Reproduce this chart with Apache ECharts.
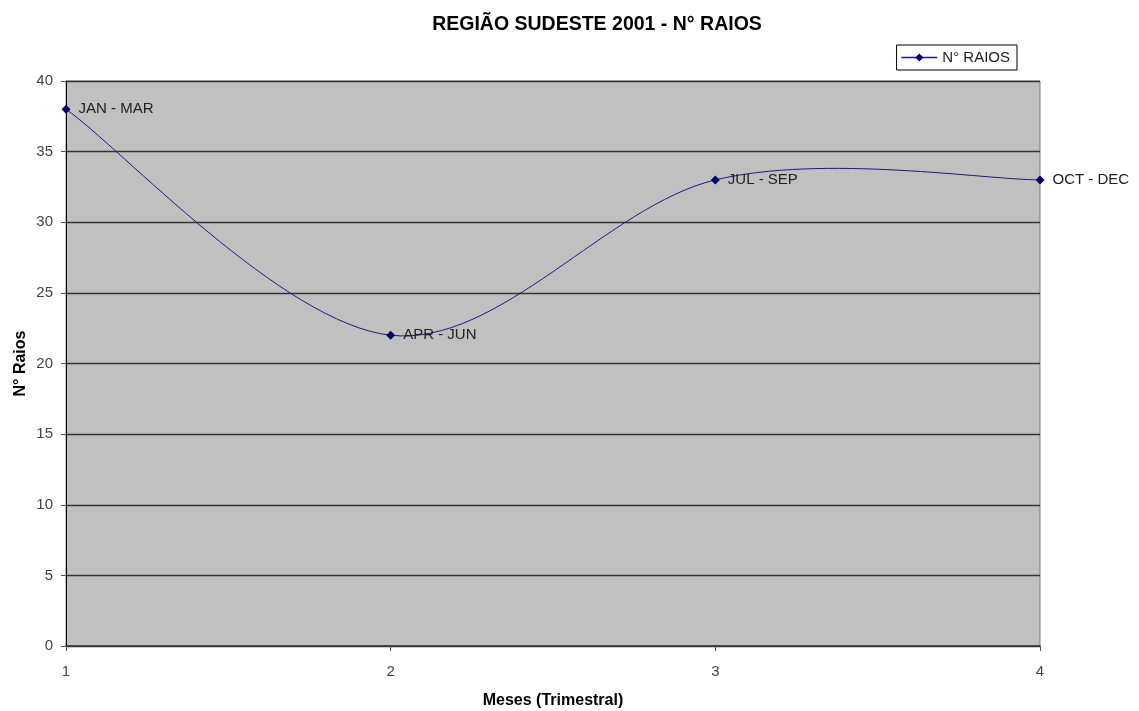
<!DOCTYPE html>
<html>
<head>
<meta charset="utf-8">
<script src="https://cdn.jsdelivr.net/npm/echarts@6/dist/echarts.min.js"></script>
<style>
html,body{margin:0;padding:0;background:#fff;}
#c{width:1139px;height:711px;}
</style>
</head>
<body>
<div id="c"></div>
<script>
const quarters = [1, 2, 3, 4];
const raios = [38, 22, 33, 33];
const periodLabels = ['JAN - MAR', 'APR - JUN', 'JUL - SEP', 'OCT - DEC'];
const yTicks = [0, 5, 10, 15, 20, 25, 30, 35, 40];

const chart = echarts.init(document.getElementById('c'));
const font = 'Arial, "Liberation Sans", sans-serif';
const lineColor = '#1a1a80';

// Excel-style smoothed curve (Catmull-Rom, tension 1/6) through the data points,
// positioned with the chart's own coordinate system.
function renderCurve(params, api) {
  if (params.dataIndex !== 0) return null;
  const pts = quarters.map((q, i) => api.coord([q, raios[i]]));
  const n = pts.length;
  let d = 'M' + pts[0][0] + ' ' + pts[0][1];
  for (let i = 0; i < n - 1; i++) {
    const p0 = pts[i - 1] || pts[i];
    const p1 = pts[i];
    const p2 = pts[i + 1];
    const p3 = pts[i + 2] || pts[i + 1];
    const c1x = p1[0] + (p2[0] - p0[0]) / 6, c1y = p1[1] + (p2[1] - p0[1]) / 6;
    const c2x = p2[0] - (p3[0] - p1[0]) / 6, c2y = p2[1] - (p3[1] - p1[1]) / 6;
    d += ' C' + c1x + ' ' + c1y + ' ' + c2x + ' ' + c2y + ' ' + p2[0] + ' ' + p2[1];
  }
  return {
    type: 'path',
    shape: {pathData: d},
    style: {fill: null, stroke: lineColor, lineWidth: 1}
  };
}

chart.setOption({
  backgroundColor: '#ffffff',
  animation: false,
  title: {
    text: 'REGIÃO SUDESTE 2001 - N° RAIOS',
    left: 592, top: 10, textAlign: 'center',
    textStyle: {fontFamily: font, fontSize: 19.5, fontWeight: 'bold', color: '#000'}
  },
  legend: {
    right: 122, top: 45,
    itemWidth: 36, itemHeight: 10,
    padding: [5, 7, 5, 4],
    borderColor: '#000', borderWidth: 1,
    lineStyle: {color: lineColor, width: 1.5, opacity: 1},
    textStyle: {fontFamily: font, fontSize: 15, color: '#222'},
    data: ['N° RAIOS']
  },
  grid: {left: 66, right: 99, top: 81, bottom: 65, outerBoundsMode: 'none', containLabel: false,
    show: true, backgroundColor: '#c0c0c0', borderColor: '#808080', borderWidth: 1},
  xAxis: {
    type: 'value', min: 1, max: 4, interval: 1,
    name: 'Meses (Trimestral)', nameLocation: 'middle', nameGap: 47, nameMoveOverlap: false,
    nameTextStyle: {fontFamily: font, fontSize: 16, fontWeight: 'bold', color: '#000'},
    axisLine: {show: true, onZero: false, lineStyle: {color: '#333', width: 1.5}},
    axisTick: {show: true, length: 5, lineStyle: {color: '#555'}},
    axisLabel: {fontFamily: font, fontSize: 15, color: '#444', margin: 18},
    splitLine: {show: false}
  },
  yAxis: {
    type: 'value', min: yTicks[0], max: yTicks[yTicks.length - 1], interval: 5,
    name: 'N° Raios', nameLocation: 'middle', nameGap: 37, nameRotate: 90, nameMoveOverlap: false,
    nameTextStyle: {fontFamily: font, fontSize: 16, fontWeight: 'bold', color: '#000'},
    axisLine: {show: true, lineStyle: {color: '#000', width: 1}},
    axisTick: {show: true, length: 5, lineStyle: {color: '#555'}},
    axisLabel: {fontFamily: font, fontSize: 15, color: '#444', margin: 13},
    splitLine: {show: true, lineStyle: {color: '#333', width: 1.3}}
  },
  series: [{
    name: 'N° RAIOS',
    type: 'line',
    z: 3,
    data: quarters.map((q, i) => ({value: [q, raios[i]], name: periodLabels[i]})),
    symbol: 'diamond', symbolSize: 9,
    itemStyle: {color: '#000066'},
    lineStyle: {color: lineColor, width: 1, opacity: 0},
    label: {
      show: true, position: 'right', distance: 8,
      formatter: p => p.name,
      fontFamily: font, fontSize: 15, color: '#222'
    }
  }, {
    name: 'N° RAIOS',
    type: 'custom',
    z: 2,
    renderItem: renderCurve,
    data: quarters.map((q, i) => [q, raios[i]])
  }]
});
</script>
</body>
</html>
